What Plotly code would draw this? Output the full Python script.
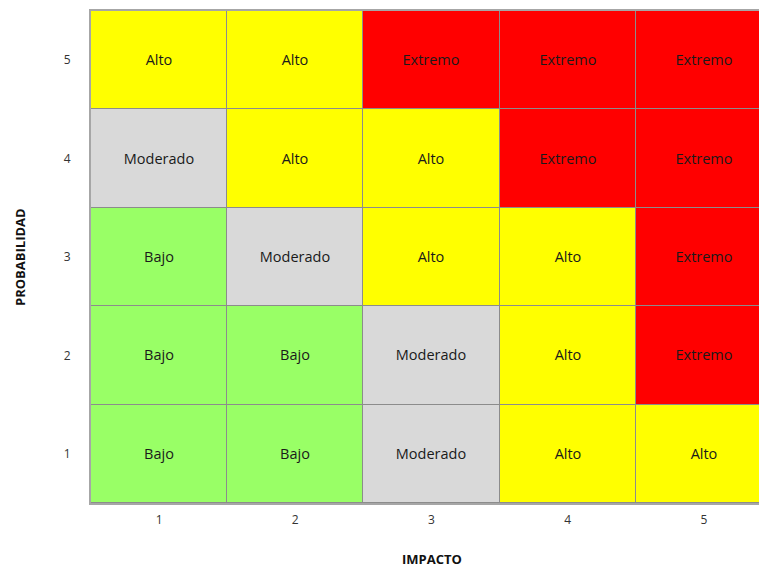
import plotly.graph_objects as go

impacto = [1, 2, 3, 4, 5]
probabilidad = [1, 2, 3, 4, 5]
# rows: probabilidad 1..5, cols: impacto 1..5
niveles = [
    ["Bajo", "Bajo", "Moderado", "Alto", "Alto"],
    ["Bajo", "Bajo", "Moderado", "Alto", "Extremo"],
    ["Bajo", "Moderado", "Alto", "Alto", "Extremo"],
    ["Moderado", "Alto", "Alto", "Extremo", "Extremo"],
    ["Alto", "Alto", "Extremo", "Extremo", "Extremo"],
]
categorias = ["Bajo", "Moderado", "Alto", "Extremo"]
colores = ["#99FF66", "#D9D9D9", "#FFFF00", "#FF0000"]

z = [[categorias.index(v) for v in row] for row in niveles]
n = len(categorias)
colorscale = []
for i, c in enumerate(colores):
    colorscale.append([i / n, c])
    colorscale.append([(i + 1) / n, c])

fig = go.Figure(go.Heatmap(
    x=impacto, y=probabilidad, z=z, text=niveles,
    texttemplate="%{text}",
    textfont=dict(family="Open Sans", size=14.5, color="#1a1a1a"),
    colorscale=colorscale, zmin=-0.5, zmax=n - 0.5,
    showscale=False, xgap=1, ygap=1, hoverinfo="skip",
))

fig.update_layout(
    width=759, height=567,
    margin=dict(l=91, r=0, t=11, b=64),
    paper_bgcolor="white", plot_bgcolor="#8C8C8C",
    font=dict(family="Open Sans", size=12, color="#333333"),
    xaxis=dict(range=[0.5, 5.405], tickvals=impacto, ticks="outside", ticklen=5,
               tickcolor="rgba(0,0,0,0)", showgrid=False, zeroline=False,
               showline=True, linecolor="#A6A6A6", linewidth=2, mirror=True,
               tickfont=dict(size=12)),
    yaxis=dict(range=[0.5, 5.5], tickvals=probabilidad, ticks="outside", ticklen=16,
               tickcolor="rgba(0,0,0,0)", showgrid=False, zeroline=False,
               showline=True, linecolor="#A6A6A6", linewidth=2, mirror=False,
               tickfont=dict(size=12)),
    annotations=[
        dict(text="<b>IMPACTO</b>", xref="paper", yref="paper", x=(432 - 91) / 668,
             y=0, yshift=-67, showarrow=False, font=dict(size=13, color="#111111")),
        dict(text="<b>PROBABILIDAD</b>", xref="paper", yref="paper", x=0, xshift=-82,
             y=0.5, textangle=-90, showarrow=False, font=dict(size=13, color="#111111")),
    ],
)

fig.write_html("out.html")
